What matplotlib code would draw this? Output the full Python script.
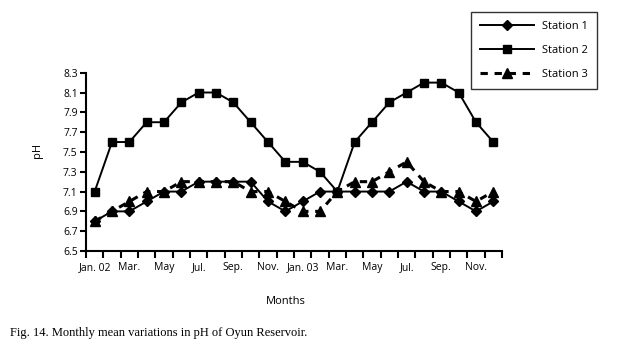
import matplotlib
matplotlib.use("Agg")
import matplotlib.pyplot as plt
import numpy as np

months = ["Jan. 02", "Feb.", "Mar.", "Apr.", "May", "Jun.", "Jul.", "Aug.", "Sep.", "Oct.", "Nov.", "Dec.",
          "Jan. 03", "Feb.", "Mar.", "Apr.", "May", "Jun.", "Jul.", "Aug.", "Sep.", "Oct.", "Nov.", "Dec."]
station1 = [6.8, 6.9, 6.9, 7.0, 7.1, 7.1, 7.2, 7.2, 7.2, 7.2, 7.0, 6.9,
            7.0, 7.1, 7.1, 7.1, 7.1, 7.1, 7.2, 7.1, 7.1, 7.0, 6.9, 7.0]
station2 = [7.1, 7.6, 7.6, 7.8, 7.8, 8.0, 8.1, 8.1, 8.0, 7.8, 7.6, 7.4,
            7.4, 7.3, 7.1, 7.6, 7.8, 8.0, 8.1, 8.2, 8.2, 8.1, 7.8, 7.6]
station3 = [6.8, 6.9, 7.0, 7.1, 7.1, 7.2, 7.2, 7.2, 7.2, 7.1, 7.1, 7.0,
            6.9, 6.9, 7.1, 7.2, 7.2, 7.3, 7.4, 7.2, 7.1, 7.1, 7.0, 7.1]
y_ticks = [6.5, 6.7, 6.9, 7.1, 7.3, 7.5, 7.7, 7.9, 8.1, 8.3]

plt.rcParams["font.family"] = ["Open Sans", "DejaVu Sans"]

fig = plt.figure(figsize=(6.2, 3.47), dpi=100)
ax = fig.add_axes([86 / 620, 1 - 251 / 347, 416 / 620, 178.3 / 347])

x = np.arange(len(months))
l1, = ax.plot(x, station1, color="black", lw=1.4, marker="D", ms=5.5, label="Station 1")
l2, = ax.plot(x, station2, color="black", lw=1.4, marker="s", ms=6, label="Station 2")
l3, = ax.plot(x, station3, color="black", lw=2.2, ls=(0, (2.4, 2.2)), marker="^", ms=7.5,
              label="Station 3")

ax.set_xlim(-0.5, len(months) - 0.5)
ax.set_ylim(6.5, 8.3)
ax.set_yticks(y_ticks)
ax.set_yticklabels([f"{v:.1f}" for v in y_ticks])

# labels at every other month centre, tick marks at month boundaries
ax.set_xticks(x[::2])
ax.set_xticklabels(months[::2])
ax.set_xticks(np.arange(-0.5, len(months)), minor=True)
ax.tick_params(axis="x", which="major", length=0, pad=8, labelsize=7.5)
ax.tick_params(axis="x", which="minor", length=5, width=1.5, direction="out")
ax.tick_params(axis="y", length=4, width=1.5, labelsize=7.5, pad=2)

for s in ["top", "right"]:
    ax.spines[s].set_visible(False)
for s in ["left", "bottom"]:
    ax.spines[s].set_linewidth(1.5)

fig.text(38 / 620, 1 - 150 / 347, "pH", rotation=90, ha="center", va="center", fontsize=8)
fig.text(286 / 620, 1 - 302 / 347, "Months", ha="center", va="center", fontsize=8)
fig.text(10 / 620, 1 - 333 / 347, "Fig. 14. Monthly mean variations in pH of Oyun Reservoir.",
         ha="left", va="center", fontsize=9, family="Liberation Serif")

leg = fig.legend(handles=[l1, l2, l3], loc="upper left",
                 bbox_to_anchor=(471 / 620, 1 - 11.7 / 347), fontsize=8,
                 handlelength=4.8, fancybox=False, edgecolor="black",
                 borderpad=0.85, labelspacing=1.15, handletextpad=0.75, borderaxespad=0)
leg.get_frame().set_linewidth(1.0)

fig.savefig("out.png", dpi=100)
